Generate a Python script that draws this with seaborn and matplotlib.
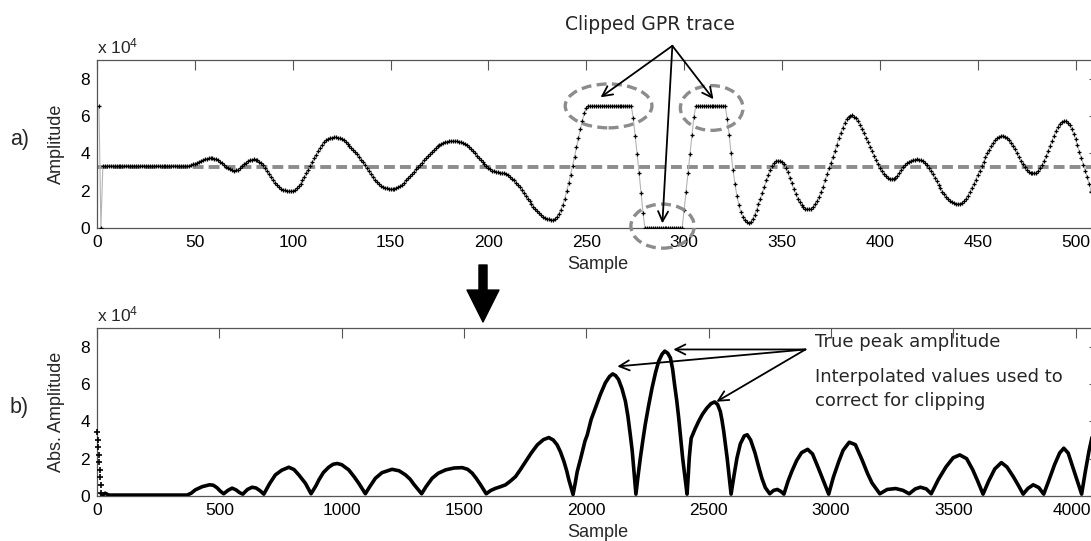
import numpy as np
import matplotlib
matplotlib.use("Agg")
import matplotlib.pyplot as plt
import matplotlib.transforms as mtransforms
import seaborn as sns
from matplotlib.patches import Ellipse

# ---------------- data (amplitudes in units of 10^4) ----------------
a_sample = np.arange(1, 513)
a_amp = [
    6.55, 0.00, 3.34, 3.34, 3.34, 3.34, 3.34, 3.34, 3.34, 3.34,
    3.34, 3.34, 3.34, 3.34, 3.34, 3.34, 3.34, 3.34, 3.34, 3.34,
    3.34, 3.34, 3.34, 3.34, 3.34, 3.34, 3.34, 3.34, 3.34, 3.34,
    3.34, 3.34, 3.34, 3.34, 3.34, 3.34, 3.34, 3.34, 3.34, 3.34,
    3.34, 3.34, 3.34, 3.34, 3.34, 3.34, 3.34, 3.37, 3.41, 3.45,
    3.50, 3.55, 3.60, 3.64, 3.68, 3.71, 3.73, 3.74, 3.74, 3.72,
    3.68, 3.63, 3.55, 3.46, 3.37, 3.28, 3.20, 3.14, 3.10, 3.08,
    3.09, 3.13, 3.20, 3.30, 3.41, 3.50, 3.58, 3.63, 3.66, 3.67,
    3.66, 3.62, 3.55, 3.46, 3.35, 3.23, 3.07, 2.90, 2.72, 2.56,
    2.42, 2.30, 2.20, 2.11, 2.05, 2.01, 1.98, 1.97, 1.97, 1.99,
    2.04, 2.12, 2.24, 2.38, 2.55, 2.74, 2.92, 3.12, 3.32, 3.52,
    3.73, 3.93, 4.12, 4.30, 4.46, 4.60, 4.70, 4.77, 4.82, 4.84,
    4.85, 4.85, 4.84, 4.81, 4.76, 4.69, 4.61, 4.51, 4.41, 4.30,
    4.18, 4.06, 3.94, 3.80, 3.66, 3.51, 3.36, 3.20, 3.04, 2.88,
    2.72, 2.58, 2.45, 2.34, 2.25, 2.19, 2.15, 2.12, 2.10, 2.09,
    2.09, 2.10, 2.13, 2.18, 2.24, 2.33, 2.43, 2.55, 2.66, 2.78,
    2.90, 3.02, 3.14, 3.26, 3.38, 3.50, 3.62, 3.74, 3.86, 3.97,
    4.08, 4.18, 4.28, 4.37, 4.44, 4.51, 4.56, 4.60, 4.63, 4.65,
    4.66, 4.66, 4.66, 4.65, 4.63, 4.60, 4.55, 4.49, 4.42, 4.33,
    4.23, 4.12, 4.00, 3.88, 3.76, 3.64, 3.52, 3.41, 3.31, 3.22,
    3.14, 3.08, 3.04, 3.01, 2.99, 2.97, 2.95, 2.92, 2.88, 2.82,
    2.74, 2.65, 2.55, 2.43, 2.30, 2.17, 2.03, 1.88, 1.73, 1.58,
    1.43, 1.29, 1.15, 1.02, 0.90, 0.79, 0.69, 0.61, 0.54, 0.49,
    0.46, 0.44, 0.45, 0.50, 0.60, 0.76, 0.98, 1.25, 1.58, 1.97,
    2.40, 2.86, 3.34, 3.83, 4.33, 4.82, 5.30, 5.75, 6.15, 6.45,
    6.55, 6.55, 6.55, 6.55, 6.55, 6.55, 6.55, 6.55, 6.55, 6.55,
    6.55, 6.55, 6.55, 6.55, 6.55, 6.55, 6.55, 6.55, 6.55, 6.55,
    6.55, 6.55, 6.55, 5.90, 4.95, 3.95, 2.95, 1.90, 0.80, 0.00,
    0.00, 0.00, 0.00, 0.00, 0.00, 0.00, 0.00, 0.00, 0.00, 0.00,
    0.00, 0.00, 0.00, 0.00, 0.00, 0.00, 0.00, 0.00, 0.00, 0.95,
    1.95, 2.95, 3.95, 5.00, 5.95, 6.55, 6.55, 6.55, 6.55, 6.55,
    6.55, 6.55, 6.55, 6.55, 6.55, 6.55, 6.55, 6.55, 6.55, 6.55,
    6.55, 5.85, 5.00, 4.00, 3.10, 2.35, 1.72, 1.22, 0.85, 0.60,
    0.43, 0.32, 0.27, 0.33, 0.48, 0.70, 0.98, 1.28, 1.58, 1.90,
    2.22, 2.55, 2.85, 3.12, 3.33, 3.48, 3.57, 3.61, 3.60, 3.53,
    3.41, 3.22, 2.98, 2.70, 2.40, 2.10, 1.83, 1.58, 1.38, 1.22,
    1.11, 1.04, 1.00, 1.00, 1.04, 1.13, 1.27, 1.45, 1.68, 1.94,
    2.22, 2.55, 2.88, 3.20, 3.50, 3.78, 4.10, 4.45, 4.80, 5.10,
    5.38, 5.65, 5.85, 5.97, 6.02, 6.03, 5.97, 5.88, 5.72, 5.52,
    5.30, 5.07, 4.84, 4.60, 4.36, 4.12, 3.88, 3.64, 3.42, 3.22,
    3.04, 2.90, 2.79, 2.70, 2.65, 2.63, 2.64, 2.70, 2.80, 2.94,
    3.10, 3.25, 3.38, 3.48, 3.56, 3.61, 3.64, 3.66, 3.67, 3.66,
    3.63, 3.57, 3.49, 3.38, 3.24, 3.08, 2.90, 2.70, 2.50, 2.30,
    2.12, 1.95, 1.80, 1.66, 1.55, 1.46, 1.39, 1.34, 1.31, 1.30,
    1.31, 1.36, 1.45, 1.58, 1.74, 1.93, 2.14, 2.36, 2.59, 2.83,
    3.07, 3.31, 3.55, 3.78, 4.00, 4.20, 4.39, 4.56, 4.70, 4.81,
    4.88, 4.92, 4.93, 4.90, 4.83, 4.72, 4.58, 4.41, 4.22, 4.01,
    3.80, 3.60, 3.41, 3.25, 3.12, 3.02, 2.96, 2.93, 2.93, 2.97,
    3.06, 3.20, 3.38, 3.60, 3.85, 4.12, 4.40, 4.68, 4.95, 5.20,
    5.42, 5.59, 5.69, 5.73, 5.72, 5.65, 5.52, 5.32, 5.06, 4.75,
    4.42, 4.08, 3.74, 3.40, 3.06, 2.72, 2.35, 1.95, 1.55, 1.20,
    0.90, 0.65,
]
a_mean_level = 3.25

b_spike_x = [1, 3, 5, 7, 9, 11, 13, 15, 17]
b_spike_amp = [3.42, 3.00, 2.60, 2.20, 1.80, 1.40, 1.00, 0.60, 0.15]

b_x = [17, 24, 33, 48, 368, 385, 402, 430, 460, 475, 490, 505, 518, 535, 552,
       568, 583, 596, 615, 634, 650, 665, 682, 705, 729, 755, 784, 805, 825,
       852, 875, 895, 907, 925, 947, 965, 982, 1000, 1029, 1050, 1070, 1097,
       1115, 1138, 1165, 1206, 1235, 1261, 1280, 1295, 1327, 1345, 1370, 1395,
       1425, 1460, 1493, 1515, 1534, 1550, 1568, 1591, 1610, 1629, 1650, 1670,
       1690, 1711, 1730, 1752, 1775, 1800, 1825, 1847, 1865, 1881, 1895, 1909,
       1920, 1929, 1946, 1955, 1963, 1975, 1984, 1995, 2004, 2020, 2037, 2058,
       2078, 2095, 2108, 2120, 2132, 2146, 2160, 2170, 2180, 2188, 2194, 2203,
       2212, 2221, 2231, 2241, 2255, 2269, 2283, 2296, 2310, 2321, 2333, 2344,
       2353, 2361, 2370, 2378, 2386, 2394, 2403, 2412, 2417, 2421, 2425, 2429,
       2445, 2459, 2475, 2493, 2510, 2525, 2537, 2548, 2555, 2562, 2569, 2576,
       2584, 2592, 2604, 2616, 2630, 2646, 2658, 2672, 2690, 2704, 2718, 2732,
       2750, 2766, 2781, 2795, 2808, 2825, 2840, 2860, 2880, 2905, 2925, 2949,
       2970, 2991, 3010, 3032, 3050, 3075, 3100, 3127, 3150, 3168, 3200, 3230,
       3265, 3295, 3320, 3345, 3366, 3390, 3410, 3440, 3470, 3500, 3527, 3555,
       3580, 3600, 3622, 3645, 3670, 3697, 3720, 3745, 3765, 3786, 3805, 3827,
       3850, 3870, 3890, 3915, 3935, 3952, 3970, 3990, 4010, 4025, 4040, 4055,
       4070, 4090]
b_amp = [0.12, 0.05, 0.15, 0.05, 0.05, 0.15, 0.33, 0.50, 0.60, 0.58, 0.45, 0.25,
         0.12, 0.30, 0.42, 0.33, 0.18, 0.10, 0.35, 0.47, 0.43, 0.30, 0.10, 0.65,
         1.13, 1.38, 1.54, 1.42, 1.13, 0.68, 0.12, 0.55, 0.86, 1.25, 1.54, 1.70,
         1.74, 1.68, 1.40, 1.05, 0.68, 0.12, 0.50, 0.95, 1.25, 1.43, 1.35, 1.13,
         0.90, 0.63, 0.12, 0.50, 0.95, 1.22, 1.40, 1.50, 1.52, 1.43, 1.22, 0.95,
         0.60, 0.12, 0.30, 0.41, 0.50, 0.60, 0.80, 1.04, 1.40, 1.84, 2.30, 2.74,
         3.02, 3.13, 3.00, 2.74, 2.35, 1.84, 1.35, 0.86, 0.08, 0.70, 1.30, 1.90,
         2.38, 2.95, 3.27, 4.10, 4.71, 5.45, 6.06, 6.40, 6.54, 6.45, 6.24, 5.75,
         5.08, 4.30, 3.28, 2.40, 1.49, 0.10, 1.10, 2.03, 2.95, 3.82, 4.85, 5.79,
         6.60, 7.22, 7.60, 7.76, 7.65, 7.40, 6.80, 5.97, 5.10, 4.17, 3.10, 2.03,
         1.05, 0.10, 1.10, 2.03, 2.60, 3.10, 3.60, 3.99, 4.38, 4.71, 4.95, 5.04,
         4.90, 4.53, 4.05, 3.46, 2.75, 2.03, 1.05, 0.10, 1.10, 2.03, 2.80, 3.22,
         3.28, 3.00, 2.30, 1.60, 0.95, 0.45, 0.12, 0.30, 0.35, 0.25, 0.10, 0.80,
         1.31, 1.90, 2.32, 2.50, 2.25, 1.49, 0.80, 0.10, 1.00, 1.84, 2.45, 2.88,
         2.75, 1.95, 1.20, 0.70, 0.12, 0.35, 0.40, 0.30, 0.12, 0.38, 0.47, 0.38,
         0.12, 0.90, 1.55, 2.05, 2.20, 2.00, 1.40, 0.80, 0.10, 0.80, 1.45, 1.79,
         1.55, 1.05, 0.60, 0.10, 0.40, 0.60, 0.45, 0.10, 0.80, 1.70, 2.30, 2.56,
         2.30, 1.50, 0.70, 0.10, 1.30, 2.40, 3.30, 4.20]

y_ticks = [0, 2, 4, 6, 8]
a_xticks = [0, 50, 100, 150, 200, 250, 300, 350, 400, 450, 500]
b_xticks = [0, 500, 1000, 1500, 2000, 2500, 3000, 3500, 4000]

# ---------------- style ----------------
sns.set_style("white")
plt.rcParams["font.family"] = ["Liberation Sans", "DejaVu Sans"]
plt.rcParams["mathtext.default"] = "regular"

W, H = 1091, 541
fig = plt.figure(figsize=(W / 100, H / 100), dpi=100)
ax1 = fig.add_axes([97 / W, 1 - 228 / H, 1002 / W, 168 / H])
ax2 = fig.add_axes([97 / W, 1 - 496 / H, 1002 / W, 168 / H])

SPINE = "#555555"
GREY = "#8c8c8c"

def style_axis(ax, xlim, xticks, ylabel):
    ax.set_xlim(*xlim)
    ax.set_ylim(0, 9)
    ax.set_xticks(xticks)
    ax.set_xticklabels([str(t) for t in xticks])
    ax.set_yticks(y_ticks)
    ax.set_yticklabels([str(t) for t in y_ticks])
    ax.tick_params(direction="in", length=7.2, width=0.8, color=SPINE,
                   labelcolor="black", labelsize=12.5, top=True, right=True,
                   pad=5)
    for sp in ax.spines.values():
        sp.set_color(SPINE)
        sp.set_linewidth(0.9)
    ax.set_xlabel("Sample", fontsize=13)
    ax.set_ylabel(ylabel, fontsize=13)
    ax.xaxis.set_label_coords(0.5, -0.165)
    ax.yaxis.set_label_coords(-0.032, 0.5)
    ax.text(0, 1.04, r"x 10$^{4}$", transform=ax.transAxes, ha="left",
            va="baseline", fontsize=12.5)
    ax.grid(False)

# ---------------- panel a ----------------
ax1.axhline(a_mean_level, color=GREY, lw=2.8, dashes=(2.8, 1.3), zorder=1)
sns.lineplot(x=a_sample, y=a_amp, ax=ax1, color="#b4b4b4", lw=0.8,
             estimator=None, zorder=2)
sns.scatterplot(x=a_sample, y=a_amp, ax=ax1, marker="+", s=11, color="black",
                linewidth=0.9, zorder=3)
style_axis(ax1, (0, 512), a_xticks, "Amplitude")

for (cx, cy, w, h) in [(261.4, 6.54, 44.3, 2.35), (314.1, 6.43, 32.0, 2.4),
                       (289.0, 0.10, 32.4, 2.36)]:
    e = Ellipse((cx, cy), w, h, fill=False, edgecolor=GREY, lw=2.4,
                linestyle=(0, (3.0, 1.6)), clip_on=False, zorder=4)
    ax1.add_patch(e)

for tx, ty in [(257.3, 7.0), (288.9, 0.25), (315.0, 6.9)]:
    ax1.annotate("", xy=(tx, ty), xytext=(294.0, 9.76),
                 arrowprops=dict(arrowstyle="->", lw=1.3, color="black",
                                 shrinkA=0, shrinkB=0, mutation_scale=18),
                 annotation_clip=False, zorder=5)
fig.text(650 / W, 1 - 24 / H, "Clipped GPR trace", ha="center", va="center",
         fontsize=13.5, family="DejaVu Sans")

# ---------------- panel b ----------------
sns.lineplot(x=b_x, y=b_amp, ax=ax2, color="black", lw=2.6, estimator=None,
             zorder=3)
sns.scatterplot(x=b_spike_x, y=b_spike_amp, ax=ax2, marker="+", s=14,
                color="black", linewidth=1.2, zorder=3, clip_on=False)
style_axis(ax2, (0, 4096), b_xticks, "Abs. Amplitude")

# keep the last tick label ("4000") inside the picture edge
last_lbl = ax2.get_xticklabels()[-1]
last_lbl.set_transform(last_lbl.get_transform() +
                       mtransforms.ScaledTranslation(-4 / 100, 0, fig.dpi_scale_trans))

for tx, ty in [(2356, 7.85), (2127, 6.94), (2532, 5.05)]:
    ax2.annotate("", xy=(tx, ty), xytext=(2896, 7.85),
                 arrowprops=dict(arrowstyle="->", lw=1.3, color="black",
                                 shrinkA=0, shrinkB=0, mutation_scale=18),
                 annotation_clip=False, zorder=5)
fig.text(815 / W, 1 - 342 / H, "True peak amplitude", ha="left", va="center",
         fontsize=13, family="DejaVu Sans")
fig.text(815 / W, 1 - 389 / H, "Interpolated values used to\ncorrect for clipping",
         ha="left", va="center", fontsize=13, family="DejaVu Sans",
         linespacing=1.4)

# ---------------- panel labels and big arrow ----------------
fig.text(10 / W, 1 - 140 / H, "a)", ha="left", va="center", fontsize=15.5)
fig.text(10 / W, 1 - 407 / H, "b)", ha="left", va="center", fontsize=15.5)
fig.add_artist(plt.matplotlib.text.Annotation(
    "", xy=(483, H - 322), xytext=(483, H - 265), xycoords="figure pixels",
    textcoords="figure pixels",
    arrowprops=dict(arrowstyle="simple,head_length=2.3,head_width=2.3,tail_width=0.58",
                    mutation_scale=10, color="black", shrinkA=0, shrinkB=0)))

fig.savefig("out.png", dpi=100)
